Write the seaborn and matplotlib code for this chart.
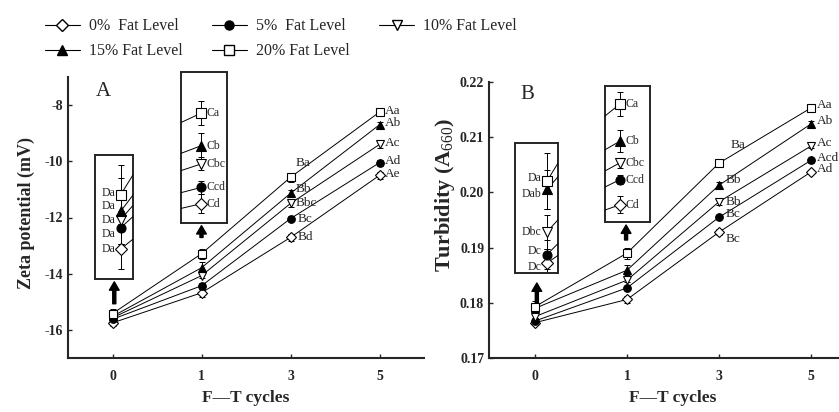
import matplotlib
matplotlib.use("Agg")
import matplotlib.pyplot as plt
from matplotlib.lines import Line2D
import seaborn as sns

# ---------------- data ----------------
cycles = ["0", "1", "3", "5"]
levels = ["0%  Fat Level", "5%  Fat Level", "10% Fat Level", "15% Fat Level", "20% Fat Level"]

# zeta potential (mV), panel A
zeta_0 = [-15.75, -14.68, -12.71, -10.50]
zeta_5 = [-15.62, -14.43, -12.04, -10.05]
zeta_10 = [-15.57, -14.07, -11.50, -9.40]
zeta_15 = [-15.52, -13.79, -11.14, -8.70]
zeta_20 = [-15.42, -13.29, -10.57, -8.25]

zeta_err_0 = [0.12, 0.15, 0.12, 0.12]
zeta_err_5 = [0.10, 0.10, 0.10, 0.10]
zeta_err_10 = [0.15, 0.10, 0.12, 0.12]
zeta_err_15 = [0.20, 0.20, 0.12, 0.10]
zeta_err_20 = [0.18, 0.18, 0.15, 0.12]

zeta_let_0 = ["Da", "Cd", "Bd", "Ae"]
zeta_let_5 = ["Da", "Ccd", "Bc", "Ad"]
zeta_let_10 = ["Da", "Cbc", "Bbc", "Ac"]
zeta_let_15 = ["Da", "Cb", "Bb", "Ab"]
zeta_let_20 = ["Da", "Ca", "Ba", "Aa"]

# turbidity (A660), panel B
turb_0 = [0.1764, 0.1806, 0.1928, 0.2037]
turb_5 = [0.1767, 0.1827, 0.1955, 0.2058]
turb_10 = [0.1775, 0.1841, 0.1983, 0.2084]
turb_15 = [0.1790, 0.1859, 0.2013, 0.2124]
turb_20 = [0.1793, 0.1890, 0.2053, 0.2153]

turb_err_0 = [0.0005, 0.0007, 0.0005, 0.0004]
turb_err_5 = [0.0005, 0.0004, 0.0004, 0.0004]
turb_err_10 = [0.0006, 0.0004, 0.0005, 0.0004]
turb_err_15 = [0.0007, 0.0009, 0.0005, 0.0006]
turb_err_20 = [0.0010, 0.0010, 0.0005, 0.0008]

turb_let_0 = ["Dc", "Cd", "Bc", "Ad"]
turb_let_5 = ["Dc", "Ccd", "Bc", "Acd"]
turb_let_10 = ["Dbc", "Cbc", "Bb", "Ac"]
turb_let_15 = ["Dab", "Cb", "Bb", "Ab"]
turb_let_20 = ["Da", "Ca", "Ba", "Aa"]

zeta = [zeta_0, zeta_5, zeta_10, zeta_15, zeta_20]
zeta_err = [zeta_err_0, zeta_err_5, zeta_err_10, zeta_err_15, zeta_err_20]
zeta_let = [zeta_let_0, zeta_let_5, zeta_let_10, zeta_let_15, zeta_let_20]
turb = [turb_0, turb_5, turb_10, turb_15, turb_20]
turb_err = [turb_err_0, turb_err_5, turb_err_10, turb_err_15, turb_err_20]
turb_let = [turb_let_0, turb_let_5, turb_let_10, turb_let_15, turb_let_20]

# ---------------- style ----------------
sns.set_style("ticks")
plt.rcParams["font.family"] = ["Liberation Serif", "DejaVu Serif"]
plt.rcParams["mathtext.fontset"] = "custom"
plt.rcParams["mathtext.rm"] = "Liberation Serif"
plt.rcParams["mathtext.it"] = "Liberation Serif:italic"
plt.rcParams["mathtext.bf"] = "Liberation Serif:bold"

markers = ["D", "o", "v", "^", "s"]
faces = ["white", "black", "white", "black", "white"]
pos = list(range(len(cycles)))


def draw_series(ax, x, y, err, mk, face, ms=5.5, lw=0.7):
    sns.lineplot(x=x, y=y, ax=ax, color="black", lw=lw, marker=mk, markersize=ms,
                 markerfacecolor=face, markeredgecolor="black", markeredgewidth=0.8,
                 legend=False, errorbar=None, zorder=3)
    ax.errorbar(x, y, yerr=err, fmt="none", ecolor="black", elinewidth=0.7,
                capsize=2.5, capthick=0.7, zorder=2)


def make_inset(ax, box, xlim, ylim, data, errs, lets, idx, side, dys):
    ins = ax.inset_axes(box, transform=ax.transData, zorder=6)
    ins.set_facecolor("white")
    for s in ins.spines.values():
        s.set_linewidth(1.4)
        s.set_visible(True)
    ins.set_xticks([])
    ins.set_yticks([])
    for k in range(5):
        draw_series(ins, pos[:2], data[k][:2], errs[k][:2], markers[k], faces[k], ms=6.5)
    for k in range(5):
        dx = -4 if side == "left" else 4
        ins.annotate(lets[k][idx], (pos[idx], data[k][idx]), xytext=(dx, dys[k]),
                     textcoords="offset points", ha="right" if side == "left" else "left",
                     va="center", fontsize=8.5)
    ins.set_xlim(*xlim)
    ins.set_ylim(*ylim)
    ins.set_xlabel("")
    ins.set_ylabel("")
    return ins


def arrow(ax, x, y0, y1):
    ax.annotate("", xy=(x, y1), xytext=(x, y0),
                arrowprops=dict(facecolor="black", edgecolor="black", width=2.2,
                                headwidth=7, headlength=6, shrink=0), zorder=6)


fig = plt.figure(figsize=(8.39, 4.12), dpi=100)
axA = fig.add_axes([68 / 839, 54 / 412, 356 / 839, 281 / 412])
axB = fig.add_axes([489 / 839, 54 / 412, 368 / 839, 276 / 412])

for ax in (axA, axB):
    sns.despine(ax=ax)
    ax.spines["left"].set_linewidth(1.5)
    ax.spines["bottom"].set_linewidth(1.5)
    ax.tick_params(direction="in", length=3, width=1, labelsize=10)
    ax.tick_params(axis="x", pad=9)
    ax.set_xlim(-0.5, 3.5)
    ax.set_xticks(pos)
    ax.set_xticklabels(cycles, fontweight="bold")
    ax.set_xlabel("F\u2014T cycles", fontsize=12.5, fontweight="bold", labelpad=5)

# ---------- panel A ----------
for k in range(5):
    draw_series(axA, pos, zeta[k], zeta_err[k], markers[k], faces[k])
offA3 = [(5, 0), (5, 0), (4, 0), (4, 3), (4, 10)]
for k in range(5):
    axA.annotate(zeta_let[k][2], (pos[2], zeta[k][2]), xytext=offA3[k],
                 textcoords="offset points", ha="left", va="center", fontsize=9.5)
    axA.annotate(zeta_let[k][3], (pos[3], zeta[k][3]), xytext=(4, 1),
                 textcoords="offset points", ha="left", va="center", fontsize=9.5)
axA.set_ylim(-17, -7)
axA.set_yticks([-16, -14, -12, -10, -8])
axA.set_yticklabels(["-16", "-14", "-12", "-10", "-8"], fontweight="bold")
axA.set_ylabel("Zeta potential (mV)", fontsize=13, fontweight="bold")
axA.yaxis.set_label_coords(-0.092, 0.516)
axA.text(0.1, 0.95, "A", transform=axA.transAxes, fontsize=15, ha="center", va="center")

make_inset(axA, [-0.20, -14.18, 0.425, 4.39], (-0.12, 0.055), (-15.93, -15.18),
           zeta, zeta_err, zeta_let, 0, "left", [0, -4.2, -0.4, 3.5, 1])
make_inset(axA, [0.775, -12.18, 0.515, 5.36], (0.933, 1.087), (-14.97, -12.66),
           zeta, zeta_err, zeta_let, 1, "right", [0, 0, 0, 0, 0])
arrow(axA, 0.02, -15.07, -14.29)
arrow(axA, 1.0, -12.71, -12.29)

# ---------- panel B ----------
for k in range(5):
    draw_series(axB, pos, turb[k], turb_err[k], markers[k], faces[k])
offB3 = [(5, -5), (5, 2), (5, 0), (5, 4), (8, 13)]
for k in range(5):
    axB.annotate(turb_let[k][2], (pos[2], turb[k][2]), xytext=offB3[k],
                 textcoords="offset points", ha="left", va="center", fontsize=9.5)
    axB.annotate(turb_let[k][3], (pos[3], turb[k][3]), xytext=(4, 2),
                 textcoords="offset points", ha="left", va="center", fontsize=9.5)
axB.set_ylim(0.17, 0.22)
axB.set_yticks([0.17, 0.18, 0.19, 0.20, 0.21, 0.22])
axB.set_yticklabels(["0.17", "0.18", "0.19", "0.20", "0.21", "0.22"], fontweight="bold")
axB.set_ylabel(r"Turbidity (A$_{660}$)", fontsize=16, fontweight="bold")
axB.yaxis.set_label_coords(-0.086, 0.59)
axB.text(0.105, 0.953, "B", transform=axB.transAxes, fontsize=15, ha="center", va="center")

make_inset(axB, [-0.217, 0.1854, 0.467, 0.02355], (-0.19, 0.065), (0.17605, 0.18064),
           turb, turb_err, turb_let, 0, "left", [-3, 2.5, 0, -3, 2])
make_inset(axB, [0.761, 0.19464, 0.489, 0.02464], (0.897, 1.207), (0.17917, 0.1905),
           turb, turb_err, turb_let, 1, "right", [0, 0, 0, 0, 0])
arrow(axB, 0.02, 0.17996, 0.18359)
arrow(axB, 0.99, 0.19138, 0.19409)

# ---------- legend ----------
handles = [Line2D([], [], color="black", lw=0.8, marker=markers[k], markersize=6.5,
                  markerfacecolor=faces[k], markeredgecolor="black") for k in range(5)]
order = [0, 3, 1, 4, 2]
fig.legend([handles[i] for i in order], [levels[i] for i in order], loc="upper left",
           bbox_to_anchor=(0.036, 0.99), ncol=3, frameon=False, fontsize=11.5,
           handlelength=2.2, handletextpad=0.55, columnspacing=1.85, labelspacing=0.55)

fig.savefig("out.png", dpi=100)
